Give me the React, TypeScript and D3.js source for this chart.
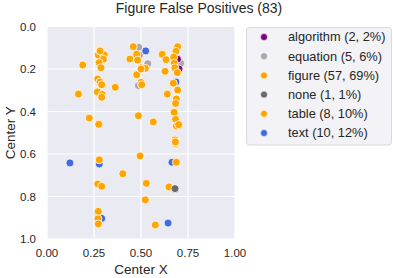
import * as d3 from 'd3'

const categories = ['algorithm', 'equation', 'figure', 'none', 'table', 'text']
const counts = [2, 5, 57, 1, 8, 10]
const percents = [2, 6, 69, 1, 10, 12]
const colors = ['#800080', '#a9a9a9', '#ffa500', '#696969', '#ffa500', '#4169e1']

// [centerX, centerY] per category
const algorithmPts: [number, number][] = [[0.694, 0.154], [0.702, 0.2]]
const equationPts: [number, number][] = [
    [0.488, 0.098], [0.493, 0.134], [0.536, 0.175], [0.711, 0.173], [0.486, 0.278],
]
const figurePts: [number, number][] = [
    [0.282, 0.111], [0.273, 0.134], [0.305, 0.134], [0.3, 0.154], [0.19, 0.181],
    [0.277, 0.17], [0.287, 0.194], [0.459, 0.095], [0.477, 0.131], [0.441, 0.153],
    [0.482, 0.158], [0.5, 0.194], [0.523, 0.197], [0.477, 0.227], [0.5, 0.263],
    [0.504, 0.274], [0.613, 0.131], [0.633, 0.156], [0.628, 0.211], [0.695, 0.095],
    [0.686, 0.117], [0.674, 0.144], [0.677, 0.173], [0.68, 0.194], [0.693, 0.217],
    [0.672, 0.267], [0.695, 0.299], [0.27, 0.247], [0.282, 0.261], [0.291, 0.274],
    [0.167, 0.318], [0.268, 0.308], [0.294, 0.32], [0.291, 0.333], [0.363, 0.286],
    [0.64, 0.318], [0.688, 0.341], [0.684, 0.362], [0.676, 0.404], [0.225, 0.431],
    [0.275, 0.46], [0.486, 0.42], [0.565, 0.449], [0.684, 0.437], [0.688, 0.468],
    [0.7, 0.462], [0.681, 0.529], [0.681, 0.534], [0.683, 0.55], [0.278, 0.627],
    [0.495, 0.609], [0.688, 0.639], [0.403, 0.693], [0.27, 0.741], [0.291, 0.752],
    [0.528, 0.738], [0.649, 0.755],
]
const nonePts: [number, number][] = [[0.681, 0.763]]
const tablePts: [number, number][] = [
    [0.523, 0.816], [0.273, 0.87], [0.271, 0.905], [0.273, 0.929], [0.576, 0.934],
    [0.683, 0.543], [0.5, 0.2], [0.282, 0.115],
]
const textPts: [number, number][] = [
    [0.525, 0.115], [0.686, 0.261], [0.122, 0.642], [0.278, 0.647], [0.665, 0.639],
    [0.273, 0.892], [0.291, 0.903], [0.644, 0.925], [0.68, 0.194], [0.273, 0.87],
]

const xTicks = [0, 0.25, 0.5, 0.75, 1]
const yTicks = [0, 0.2, 0.4, 0.6, 0.8, 1]

const W = 393
const H = 278
const left = 47
const top = 26.5
const pw = 188
const ph = 212.5
const font = '"Liberation Sans", Arial, sans-serif'
const ink = '#262626'

const App = () => {
    const x = d3.scaleLinear().domain([0, 1]).range([left, left + pw])
    const y = d3.scaleLinear().domain([0, 1]).range([top, top + ph])

    const byCat: Record<string, [number, number][]> = {
        algorithm: algorithmPts,
        equation: equationPts,
        figure: figurePts,
        none: nonePts,
        table: tablePts,
        text: textPts,
    }
    // draw order
    const order = ['equation', 'text', 'algorithm', 'figure', 'table', 'none']

    return (
        <svg width={W} height={H} style={{ position: 'absolute', left: 0, top: 0 }}>
            <rect width={W} height={H} fill="#fff" />
            <text x={199} y={12.5} textAnchor="middle" fontFamily={font} fontSize={14} fill={ink}>
                Figure False Positives (83)
            </text>
            <rect x={left} y={top} width={pw} height={ph} fill="#eaeaf2" />
            {xTicks.map(t => (
                <g key={'x' + t}>
                    <line x1={x(t)} x2={x(t)} y1={top} y2={top + ph} stroke="#fff" strokeWidth={1.2} />
                    <text x={x(t)} y={257} textAnchor="middle" fontFamily={font} fontSize={11.5} fill={ink}>
                        {d3.format('.2f')(t)}
                    </text>
                </g>
            ))}
            {yTicks.map(t => (
                <g key={'y' + t}>
                    <line x1={left} x2={left + pw} y1={y(t)} y2={y(t)} stroke="#fff" strokeWidth={1.2} />
                    <text x={36} y={y(t) + 4} textAnchor="end" fontFamily={font} fontSize={11.5} fill={ink}>
                        {d3.format('.1f')(t)}
                    </text>
                </g>
            ))}
            <text x={left + pw / 2} y={274} textAnchor="middle" fontFamily={font} fontSize={13.5} fill={ink}>
                Center X
            </text>
            <text
                transform={`translate(15, ${top + ph / 2}) rotate(-90)`}
                textAnchor="middle"
                fontFamily={font}
                fontSize={13.5}
                fill={ink}
            >
                Center Y
            </text>
            {order.map(cat => {
                const ci = categories.indexOf(cat)
                return byCat[cat].map((p, i) => (
                    <circle
                        key={cat + i}
                        cx={x(p[0])}
                        cy={y(p[1])}
                        r={4}
                        fill={colors[ci]}
                        stroke="#fff"
                        strokeWidth={0.8}
                    />
                ))
            })}
            <rect x={246.5} y={27.5} width={145} height={117.5} rx={3} fill="#f2f2f7" stroke="#d0d0d0" strokeWidth={0.8} />
            {categories.map((c, i) => (
                <g key={c} transform={`translate(0, ${37 + i * 19.2})`}>
                    <circle cx={264} cy={0} r={3.5} fill={colors[i]} stroke="#fff" strokeWidth={0.6} />
                    <text x={288} y={4.3} fontFamily={font} fontSize={12.8} fill={ink}>
                        {`${c} (${counts[i]}, ${percents[i]}%)`}
                    </text>
                </g>
            ))}
        </svg>
    )
}

export default App
